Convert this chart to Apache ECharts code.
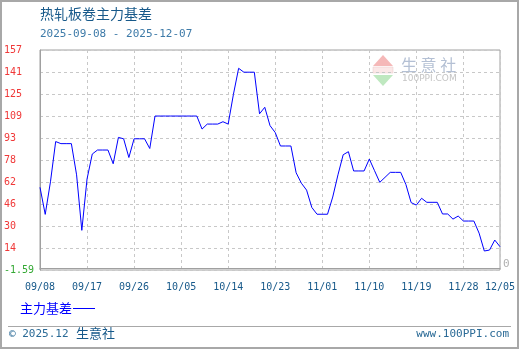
<!DOCTYPE html>
<html>
<head>
<meta charset="utf-8">
<script src="https://cdn.jsdelivr.net/npm/echarts@6/dist/echarts.min.js"></script>
<style>
html,body{margin:0;padding:0;background:#fff;}
#c{width:520px;height:350px;}
</style>
</head>
<body>
<div id="c"></div>
<script>
// ---- data ----
var titleText = '热轧板卷主力基差';
var dateRangeText = '2025-09-08 - 2025-12-07';
var seriesName = '主力基差';
var dates = [
  '09/08','09/09','09/10','09/11','09/12','09/13','09/14','09/15','09/16','09/17',
  '09/18','09/19','09/20','09/21','09/22','09/23','09/24','09/25','09/26','09/27',
  '09/28','09/29','09/30','10/01','10/02','10/03','10/04','10/05','10/06','10/07',
  '10/08','10/09','10/10','10/11','10/12','10/13','10/14','10/15','10/16','10/17',
  '10/18','10/19','10/20','10/21','10/22','10/23','10/24','10/25','10/26','10/27',
  '10/28','10/29','10/30','10/31','11/01','11/02','11/03','11/04','11/05','11/06',
  '11/07','11/08','11/09','11/10','11/11','11/12','11/13','11/14','11/15','11/16',
  '11/17','11/18','11/19','11/20','11/21','11/22','11/23','11/24','11/25','11/26',
  '11/27','11/28','11/29','11/30','12/01','12/02','12/03','12/04','12/05'
];
var basis = [
  58, 38.5, 62, 91, 89.5, 89.5, 89.5, 67, 27, 64,
  82, 84.9, 84.9, 84.9, 75, 94, 93, 79.5, 93, 93,
  93, 86, 109.4, 109.4, 109.4, 109.4, 109.4, 109.4, 109.4, 109.4,
  109.4, 100, 103.6, 103.6, 103.6, 105.3, 103.6, 125, 143.8, 141,
  141, 141, 111, 115.7, 102.5, 97.5, 87.8, 87.8, 87.8, 68.5,
  61, 56, 43.5, 38.6, 38.6, 38.6, 51, 67, 81.5, 83.7,
  69.8, 69.8, 69.8, 78.4, 70, 61.6, 65.2, 68.8, 68.8, 68.8,
  60, 47, 45.2, 50.1, 47.2, 47.2, 47.2, 38.8, 38.8, 35.1,
  37.3, 33.7, 33.7, 33.7, 25, 12.1, 12.8, 20, 15.2
];
var yMin = -1.59;
var yMax = 157;
var yTickLabels = ['-1.59','14','30','46','62','78','93','109','125','141','157'];
var xLabelDates = ['09/08','09/17','09/26','10/05','10/14','10/23','11/01','11/10','11/19','11/28','12/05'];
var footerLeft = '© 2025.12';
var footerBrand = '生意社';
var footerRight = 'www.100PPI.com';

// ---- chart ----
var yInterval = (yMax - yMin) / 10;
var mono = '"DejaVu Sans Mono", "Liberation Mono", monospace';
var cjk = '"Noto Sans CJK SC", sans-serif';
function showX(i, v) { return xLabelDates.indexOf(dates[i]) >= 0; }

var chart = echarts.init(document.getElementById('c'), null, {renderer: 'canvas'});
chart.setOption({
  animation: false,
  backgroundColor: '#fff',
  title: {
    text: titleText,
    subtext: dateRangeText,
    left: 40, top: 7, padding: 0, itemGap: 8,
    textStyle: {fontFamily: cjk, fontSize: 14, fontWeight: 'normal', color: '#17598a'},
    subtextStyle: {fontFamily: mono, fontSize: 11, color: '#3d7aa8'}
  },
  legend: {
    data: [seriesName],
    left: 20, top: 302, padding: 0,
    align: 'right', icon: 'rect', itemWidth: 22, itemHeight: 1,
    selectedMode: false,
    textStyle: {fontFamily: cjk, fontSize: 13, color: '#0000ff', padding: [0, -4, 0, 0]}
  },
  grid: {left: 40, right: 20, top: 50, bottom: 80, show: true, borderColor: '#a0a0a0', borderWidth: 1},
  xAxis: {
    type: 'category',
    data: dates,
    boundaryGap: false,
    axisLine: {show: true, lineStyle: {color: '#a0a0a0'}},
    axisTick: {show: false},
    axisLabel: {interval: showX, color: '#17598a', fontFamily: mono, fontSize: 10, margin: 12},
    splitLine: {show: true, interval: showX, lineStyle: {color: '#c8c8c8', type: [3, 3]}}
  },
  yAxis: {
    type: 'value',
    min: yMin, max: yMax, interval: yInterval,
    axisLine: {show: true, lineStyle: {color: '#a0a0a0'}},
    axisTick: {show: false},
    axisLabel: {
      align: 'left', margin: 36, fontFamily: mono, fontSize: 10,
      formatter: function (v) { return yTickLabels[Math.round((v - yMin) / yInterval)]; },
      color: function (v) { return v < 0 ? '#33a833' : '#f03838'; }
    },
    splitLine: {show: true, lineStyle: {color: '#c8c8c8', type: [3, 3]}}
  },
  series: [{
    name: seriesName,
    type: 'line',
    data: basis,
    showSymbol: false,
    symbol: 'none',
    lineStyle: {color: '#0000ff', width: 1},
    itemStyle: {color: '#0000ff'}
  }],
  graphic: [
    {type: 'rect', silent: true, z: -10, shape: {x: 1, y: 1, width: 517, height: 347},
     style: {fill: null, stroke: '#a8a8a8', lineWidth: 2}},
    {type: 'line', silent: true, shape: {x1: 8, y1: 326.5, x2: 511, y2: 326.5},
     style: {stroke: '#a8a8a8', lineWidth: 1}},
    {type: 'text', silent: true, left: 9, top: 329,
     style: {text: footerLeft, fontFamily: mono, fontSize: 11, fill: '#2a6a96'}},
    {type: 'text', silent: true, left: 76, top: 327,
     style: {text: footerBrand, fontFamily: cjk, fontSize: 13, fill: '#17598a'}},
    {type: 'text', silent: true, right: 11, top: 329,
     style: {text: footerRight, fontFamily: mono, fontSize: 11, fill: '#2a6a96'}},
    {type: 'text', silent: true, left: 503, top: 259,
     style: {text: '0', fontFamily: mono, fontSize: 11, fill: '#b0b0b0'}},
    // watermark logo
    {type: 'polygon', silent: true, z: -5, shape: {points: [[383, 55], [373, 66], [393, 66]]},
     style: {fill: '#f5b8b8'}},
    {type: 'rect', silent: true, z: -5, shape: {x: 373, y: 67, width: 20, height: 6},
     style: {fill: '#fbe8e8', stroke: '#e8c8c8', lineWidth: 0.5}},
    {type: 'polygon', silent: true, z: -5, shape: {points: [[373, 75], [393, 75], [383, 86]]},
     style: {fill: '#bfe8c0'}},
    {type: 'text', silent: true, z: -5, left: 401, top: 57,
     style: {text: '生 意 社', fontFamily: cjk, fontSize: 16, fill: '#b4c0d4'}},
    {type: 'text', silent: true, z: -5, left: 402, top: 74,
     style: {text: '100PPI.COM', fontFamily: '"DejaVu Sans", sans-serif', fontSize: 9, fill: '#c4c4c4'}}
  ]
});
</script>
</body>
</html>
